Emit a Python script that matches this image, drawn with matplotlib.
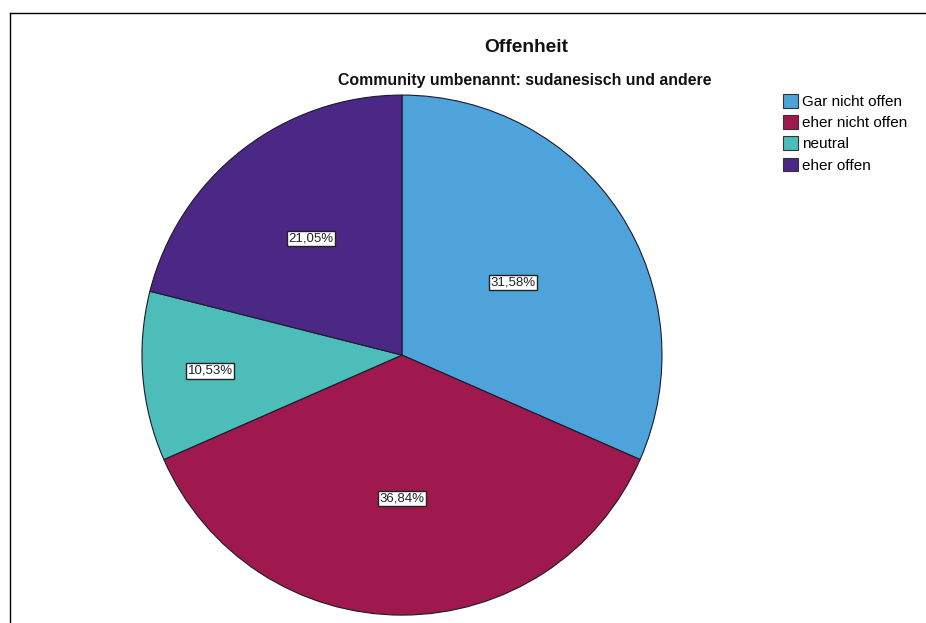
import numpy as np
import matplotlib.pyplot as plt
from matplotlib.lines import Line2D
from matplotlib.patches import Patch

plt.rcParams['font.family'] = ['Liberation Sans', 'DejaVu Sans']

# Daten
kategorien = ["Gar nicht offen", "eher nicht offen", "neutral", "eher offen"]
anteile = [31.58, 36.84, 10.53, 21.05]
beschriftungen = ["31,58%", "36,84%", "10,53%", "21,05%"]
farben = ["#4FA3DB", "#A0194E", "#4DBDBA", "#4B2885"]

fig = plt.figure(figsize=(9.26, 6.23), dpi=100)
ax = fig.add_axes([0.1533, 0.0127, 0.5616, 0.8347])

wedges, _ = ax.pie(anteile, colors=farben, startangle=90, counterclock=False,
                   radius=1, wedgeprops=dict(edgecolor="#1a1a2a", linewidth=0.8))

# Prozent-Etiketten im Stueck (Abstand vom Mittelpunkt je Stueck)
abstand = [0.51, 0.55, 0.74, 0.57]
for w, txt, r in zip(wedges, beschriftungen, abstand):
    mitte = np.deg2rad((w.theta1 + w.theta2) / 2)
    ax.text(r * np.cos(mitte), r * np.sin(mitte), txt, ha="center", va="center",
            fontsize=9.5, color="#222222",
            bbox=dict(boxstyle="square,pad=0.12", facecolor="white",
                      edgecolor="#222222", linewidth=1))

ax.set_xlim(-1, 1)
ax.set_ylim(-1, 1)
ax.set_aspect("equal")
ax.axis("off")

fig.text(526 / 926, 1 - 47 / 623, "Offenheit", ha="center", va="center",
         fontsize=13.8, fontweight="bold", color="#111111")
fig.text(525 / 926, 1 - 80 / 623, "Community umbenannt: sudanesisch und andere",
         ha="center", va="center", fontsize=11.4, fontweight="bold", color="#111111")

handles = [Patch(facecolor=c, edgecolor="#333333", linewidth=0.8) for c in farben]
fig.legend(handles, kategorien, loc="upper left", bbox_to_anchor=(783 / 926, 1 - 94 / 623),
           frameon=False, fontsize=11, handlelength=1.0, handleheight=1.0,
           handletextpad=0.27, labelspacing=0.4, borderaxespad=0, borderpad=0)

# Rahmen links und oben
fig.add_artist(Line2D([10 / 926, 10 / 926], [0, 1 - 13 / 623], color="black", linewidth=1))
fig.add_artist(Line2D([10 / 926, 1], [1 - 13 / 623, 1 - 13 / 623], color="black", linewidth=1))

fig.savefig("out.png", dpi=100)
